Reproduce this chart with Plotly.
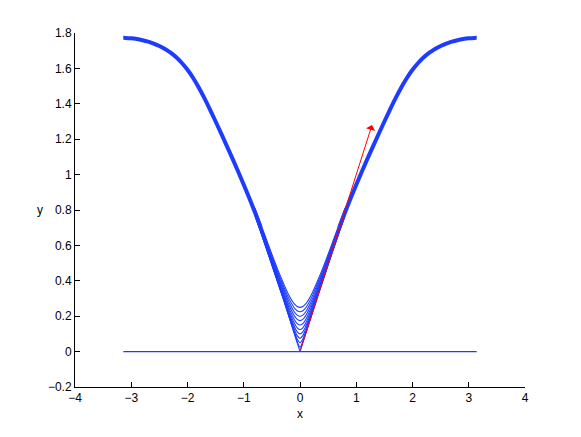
import plotly.graph_objects as go

# ---- data (right half; curves are symmetric in x) ----
band_x = [0.7, 0.8, 0.9, 1.0, 1.1, 1.2, 1.3, 1.4, 1.5, 1.6, 1.7, 1.8, 1.9, 2.0,
          2.1, 2.2, 2.3, 2.4, 2.5, 2.6, 2.7, 2.8, 2.9, 3.0, 3.1, 3.1416]
band_y = [0.703, 0.786, 0.866, 0.943, 1.0175, 1.09, 1.161, 1.231, 1.30, 1.3675,
          1.432, 1.492, 1.546, 1.592, 1.6305, 1.6625, 1.6887, 1.7097, 1.7267, 1.7402,
          1.7509, 1.7591, 1.7656, 1.7701, 1.7723, 1.7725]

thin_x = [0.0, 0.05, 0.1, 0.2, 0.3, 0.4, 0.5, 0.6, 0.8]
thin_curves = [
    [0.000, 0.050, 0.100, 0.200, 0.300, 0.395, 0.490, 0.585, 0.770],
    [0.025, 0.0559, 0.1031, 0.2016, 0.3010, 0.3958, 0.4906, 0.5855, 0.7704],
    [0.050, 0.0707, 0.1118, 0.2062, 0.3041, 0.3982, 0.4925, 0.5871, 0.7716],
    [0.075, 0.0901, 0.1250, 0.2136, 0.3092, 0.4021, 0.4957, 0.5898, 0.7736],
    [0.100, 0.1118, 0.1414, 0.2236, 0.3162, 0.4075, 0.5001, 0.5935, 0.7765],
    [0.125, 0.1346, 0.1601, 0.2358, 0.3250, 0.4143, 0.5057, 0.5982, 0.7801],
    [0.150, 0.1581, 0.1803, 0.2500, 0.3354, 0.4225, 0.5124, 0.6039, 0.7845],
    [0.175, 0.1820, 0.2016, 0.2658, 0.3473, 0.4320, 0.5203, 0.6106, 0.7896],
    [0.200, 0.2062, 0.2236, 0.2828, 0.3606, 0.4427, 0.5292, 0.6182, 0.7956],
    [0.225, 0.2305, 0.2462, 0.3010, 0.3750, 0.4546, 0.5392, 0.6268, 0.8022],
    [0.250, 0.2550, 0.2693, 0.3202, 0.3905, 0.4675, 0.5501, 0.6362, 0.8096],
]

base_x = [-3.1416, 3.1416]
base_y = [0.0, 0.0]

arrow_start = (0.0, 0.0)
arrow_end = (1.28, 1.28)

x_ticks = [-4, -3, -2, -1, 0, 1, 2, 3, 4]
y_ticks = [-0.2, 0, 0.2, 0.4, 0.6, 0.8, 1, 1.2, 1.4, 1.6, 1.8]

BLUE = "rgb(30,60,255)"
RED = "rgb(255,0,0)"


def mirror(xs, ys):
    return [-v for v in reversed(xs)] + list(xs), list(reversed(ys)) + list(ys)


fig = go.Figure()

# thick outer band (left and right branches)
lx = [-v for v in reversed(band_x)]
ly = list(reversed(band_y))
fig.add_trace(go.Scatter(x=lx + [None] + band_x, y=ly + [None] + band_y,
                         mode="lines", line=dict(color=BLUE, width=4, shape="spline", smoothing=1.0),
                         showlegend=False, hoverinfo="skip"))

# thin family of curves near the centre
for i, ys in enumerate(thin_curves):
    xx, yy = mirror(thin_x[1:], ys[1:])
    n = len(thin_x) - 1
    xx = xx[:n] + [thin_x[0]] + xx[n:]
    yy = yy[:n] + [ys[0]] + yy[n:]
    fig.add_trace(go.Scatter(x=xx, y=yy, mode="lines",
                             line=dict(color=BLUE, width=1.1,
                                       shape="linear" if i == 0 else "spline",
                                       smoothing=0.8),
                             showlegend=False, hoverinfo="skip"))

# horizontal line at zero
fig.add_trace(go.Scatter(x=base_x, y=base_y, mode="lines",
                         line=dict(color=BLUE, width=1.2), showlegend=False, hoverinfo="skip"))

# red arrow
fig.add_annotation(x=arrow_end[0], y=arrow_end[1], ax=arrow_start[0], ay=arrow_start[1],
                   xref="x", yref="y", axref="x", ayref="y", text="",
                   showarrow=True, arrowhead=1, arrowsize=1.6, arrowwidth=1, arrowcolor=RED)

# axis labels (MATLAB style, y label upright)
fig.add_annotation(x=0.5, y=-0.075, xref="paper", yref="paper", text="x",
                   showarrow=False, font=dict(size=12, color="black"), yanchor="middle")
fig.add_annotation(x=-0.077, y=0.5, xref="paper", yref="paper", text="y",
                   showarrow=False, font=dict(size=12, color="black"), xanchor="center")

axis_common = dict(showgrid=False, zeroline=False, showline=True, linecolor="black",
                   linewidth=1, ticks="inside", ticklen=5, tickcolor="black",
                   tickfont=dict(size=12, color="black", family="Liberation Sans, Arial, sans-serif"),
                   mirror=False)

fig.update_xaxes(range=[-4, 4], tickvals=x_ticks,
                 ticktext=[str(v).replace("-", "\u2212") for v in x_ticks], **axis_common)
fig.update_yaxes(range=[-0.2, 1.8], tickvals=y_ticks,
                 ticktext=[("%g" % v).replace("-", "\u2212") for v in y_ticks], **axis_common)

# margins compensate for the 8px default page margin of the HTML body
fig.update_layout(width=581, height=437, margin=dict(l=67, r=64, t=25, b=58),
                  plot_bgcolor="white", paper_bgcolor="white",
                  font=dict(family="Liberation Sans, Arial, sans-serif", size=12, color="black"))

fig.write_html("out.html")
